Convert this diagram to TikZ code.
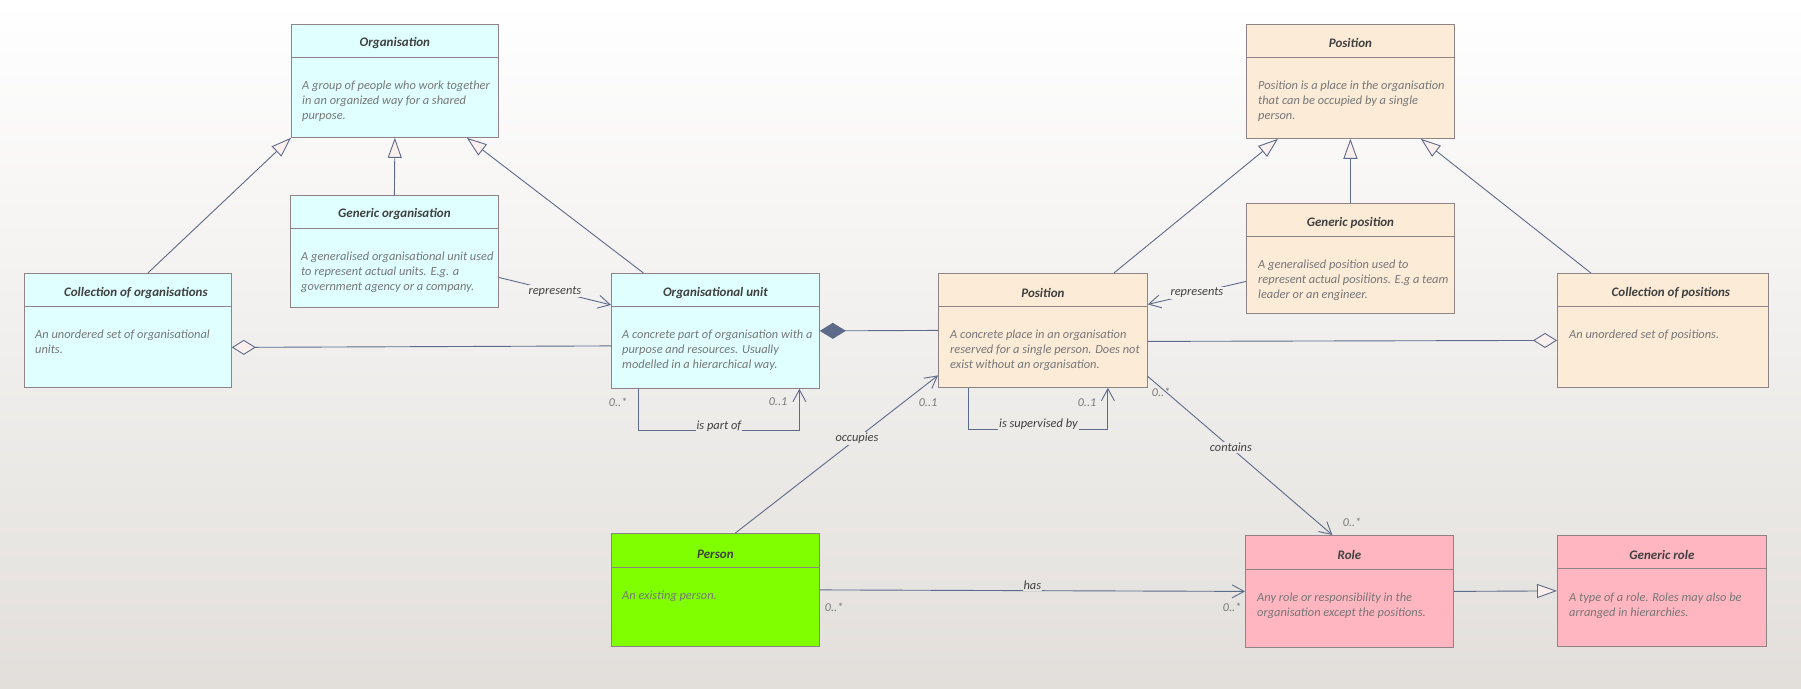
\documentclass[tikz,border=0pt]{standalone}
\usepackage{fontspec}
\setmainfont{Carlito}
\usetikzlibrary{arrows.meta, positioning}

\definecolor{bgbot}{HTML}{E2DFDB}
\definecolor{orgfill}{HTML}{E0FFFF}
\definecolor{posfill}{HTML}{FBEBD7}
\definecolor{personfill}{HTML}{7FFF00}
\definecolor{rolefill}{HTML}{FFB6C1}
\definecolor{boxline}{HTML}{8F8386}
\definecolor{linkcol}{HTML}{5E6A8A}
\definecolor{hollowfill}{HTML}{FBF0EE}
\definecolor{titlecol}{HTML}{404040}
\definecolor{desccol}{HTML}{777777}

\tikzset{
  umlbox/.style={draw=boxline, line width=0.8pt, anchor=north west, inner sep=0pt, minimum width=208pt},
  headline/.style={draw=boxline, line width=0.8pt},
  title/.style={font=\bfseries\itshape\fontsize{13}{15}\selectfont, text=titlecol},
  desc/.style={font=\itshape\fontsize{12.4}{14.7}\selectfont, text=desccol, align=left, anchor=north west, inner sep=0pt},
  link/.style={draw=linkcol, line width=0.9pt},
  gen/.style={link, -{Triangle[open, length=20pt, width=14pt, fill=hollowfill]}},
  assoc/.style={link, -{Straight Barb[length=12pt, width=13pt]}},
  aggstart/.style={link, {Diamond[open, length=24pt, width=15pt, fill=hollowfill]}-},
  aggend/.style={link, -{Diamond[open, length=24pt, width=15pt, fill=hollowfill]}},
  compstart/.style={link, {Diamond[length=26pt, width=16pt, fill=linkcol]}-},
  lbl/.style={font=\itshape\fontsize{12.4}{14}\selectfont, text=titlecol, inner sep=1pt},
  mult/.style={font=\itshape\fontsize{12}{13}\selectfont, text=desccol, inner sep=0pt},
}

\begin{document}
\begin{tikzpicture}[x=1pt, y=-1pt]
	\useasboundingbox (0,0) rectangle (1801,688);
	\shade [top color=white, bottom color=bgbot] (0,0) rectangle (1801,688);

	% organisation side
	\node [umlbox, fill=orgfill, minimum width=207pt, minimum height=113pt] (org) at (291,24) {};
	\draw [headline] ([yshift=-33pt]org.north west) -- ([yshift=-33pt]org.north east);
	\node [title] (orgT) at ([yshift=-19pt]org.north) {Organisation};
	\node [desc] (orgD) at ([xshift=11pt, yshift=-57pt]org.north west) {A group of people who work together\\in an organized way for a shared\\purpose.};

	\node [umlbox, fill=orgfill, minimum height=112pt] (genO) at (290,195) {};
	\draw [headline] ([yshift=-33pt]genO.north west) -- ([yshift=-33pt]genO.north east);
	\node [title] (genOT) at ([yshift=-19pt]genO.north) {Generic organisation};
	\node [desc] (genOD) at ([xshift=11pt, yshift=-57pt]genO.north west) {A generalised organisational unit used\\to represent actual units. E.g. a\\government agency or a company.};

	\node [umlbox, fill=orgfill, minimum width=207pt, minimum height=114pt] (colO) at (24,273) {};
	\draw [headline] ([yshift=-33pt]colO.north west) -- ([yshift=-33pt]colO.north east);
	\node [title] (colOT) at ([xshift=8pt, yshift=-20pt]colO.north) {Collection of organisations};
	\node [desc] (colOD) at ([xshift=11pt, yshift=-57pt]colO.north west) {An unordered set of organisational\\units.};

	\node [umlbox, fill=orgfill, minimum height=115pt] (unit) at (611,273) {};
	\draw [headline] ([yshift=-33pt]unit.north west) -- ([yshift=-33pt]unit.north east);
	\node [title] (unitT) at ([yshift=-20pt]unit.north) {Organisational unit};
	\node [desc] (unitD) at ([xshift=11pt, yshift=-57pt]unit.north west) {A concrete part of organisation with a\\purpose and resources. Usually\\modelled in a hierarchical way.};

	% position side
	\node [umlbox, fill=posfill, minimum height=114pt] (posT) at (1246,24) {};
	\draw [headline] ([yshift=-33pt]posT.north west) -- ([yshift=-33pt]posT.north east);
	\node [title] (posTT) at ([yshift=-19pt]posT.north) {Position};
	\node [desc] (posTD) at ([xshift=12pt, yshift=-57pt]posT.north west) {Position is a place in the organisation\\that can be occupied by a single\\person.};

	\node [umlbox, fill=posfill, minimum height=110pt] (genP) at (1246,203) {};
	\draw [headline] ([yshift=-33pt]genP.north west) -- ([yshift=-33pt]genP.north east);
	\node [title] (genPT) at ([yshift=-20pt]genP.north) {Generic position};
	\node [desc] (genPD) at ([xshift=12pt, yshift=-57pt]genP.north west) {A generalised position used to\\represent actual positions. E.g a team\\leader or an engineer.};

	\node [umlbox, fill=posfill, minimum width=209pt, minimum height=114pt] (pos) at (938,273) {};
	\draw [headline] ([yshift=-33pt]pos.north west) -- ([yshift=-33pt]pos.north east);
	\node [title] (posN) at ([yshift=-20pt]pos.north) {Position};
	\node [desc] (posD) at ([xshift=12pt, yshift=-57pt]pos.north west) {A concrete place in an organisation\\reserved for a single person. Does not\\exist without an organisation.};

	\node [umlbox, fill=posfill, minimum width=211pt, minimum height=114pt] (colP) at (1557,273) {};
	\draw [headline] ([yshift=-33pt]colP.north west) -- ([yshift=-33pt]colP.north east);
	\node [title] (colPT) at ([xshift=8pt, yshift=-20pt]colP.north) {Collection of positions};
	\node [desc] (colPD) at ([xshift=12pt, yshift=-57pt]colP.north west) {An unordered set of positions.};

	% person and roles
	\node [umlbox, fill=personfill, minimum height=113pt] (person) at (611,533) {};
	\draw [headline] ([yshift=-34pt]person.north west) -- ([yshift=-34pt]person.north east);
	\node [title] (personT) at ([yshift=-21pt]person.north) {Person};
	\node [desc] (personD) at ([xshift=11pt, yshift=-58pt]person.north west) {An existing person.};

	\node [umlbox, fill=rolefill, minimum height=112pt] (role) at (1245,535) {};
	\draw [headline] ([yshift=-34pt]role.north west) -- ([yshift=-34pt]role.north east);
	\node [title] (roleT) at ([yshift=-20pt]role.north) {Role};
	\node [desc] (roleD) at ([xshift=12pt, yshift=-58pt]role.north west) {Any role or responsibility in the\\organisation except the positions.};

	\node [umlbox, fill=rolefill, minimum width=209pt, minimum height=111pt] (genR) at (1557,535) {};
	\draw [headline] ([yshift=-33pt]genR.north west) -- ([yshift=-33pt]genR.north east);
	\node [title] (genRT) at ([yshift=-20pt]genR.north) {Generic role};
	\node [desc] (genRD) at ([xshift=12pt, yshift=-58pt]genR.north west) {A type of a role. Roles may also be\\arranged in hierarchies.};

	% generalisations
	\draw [gen] ([xshift=20pt]colO.north) -- (org.south west);
	\draw [gen] (genO.north) -- (org.south);
	\draw [gen] ([xshift=-72pt]unit.north) -- ([xshift=-32pt]org.south east);
	\draw [gen] ([xshift=71pt]pos.north) -- ([xshift=32pt]posT.south west);
	\draw [gen] (genP.north) -- (posT.south);
	\draw [gen] ([xshift=-72pt]colP.north) -- ([xshift=-34pt]posT.south east);
	\draw [gen] (role.east) -- (genR.west);

	% aggregation and composition
	\draw [aggstart] ([yshift=-17pt]colO.east) -- ([yshift=-15pt]unit.west);
	\draw [compstart] (unit.east) -- (pos.west);
	\draw [aggend] ([yshift=-11pt]pos.east) -- ([yshift=-10pt]colP.west);

	% associations
	\draw [assoc] ([yshift=-26pt]genO.east) -- node [lbl, fill=bgbot!41!white] {represents} ([yshift=26pt]unit.west);
	\draw [assoc] ([yshift=-23pt]genP.west) -- node [lbl, fill=bgbot!41!white] {represents} ([yshift=26pt]pos.east);
	\draw [assoc] ([xshift=-77pt]unit.south) -- ++(0,42) -- node [lbl, fill=bgbot!62!white, yshift=5pt] {is part of} ++(161,0) -- ([xshift=84pt]unit.south);
	\draw [assoc] ([xshift=-74pt]pos.south) -- ++(0,42) -- node [lbl, fill=bgbot!62!white, yshift=6pt] {is supervised by} ++(139,0) -- ([xshift=65pt]pos.south);
	\draw [assoc] ([xshift=20pt]person.north) -- node [lbl, fill=bgbot!65!white, pos=0.6] {occupies} ([yshift=-45pt]pos.west);
	\draw [assoc] ([yshift=-46pt]pos.east) -- node [lbl, fill=bgbot!65!white, pos=0.45] {contains} ([xshift=-17pt]role.north);
	\draw [assoc] (person.east) -- node [lbl, fill=bgbot!85!white, yshift=5pt] {has} (role.west);

	% multiplicities
	\node [mult] (mPartA) at (618,402) {0..*};
	\node [mult] (mPartB) at (778,402) {0..1};
	\node [mult] (mSupB) at (1087,403) {0..1};
	\node [mult] (mOcc) at (928,403) {0..1};
	\node [mult] (mConA) at (1161,392) {0..*};
	\node [mult] (mConB) at (1352,522) {0..*};
	\node [mult] (mHasA) at (834,607) {0..*};
	\node [mult] (mHasB) at (1232,607) {0..*};
\end{tikzpicture}
\end{document}
